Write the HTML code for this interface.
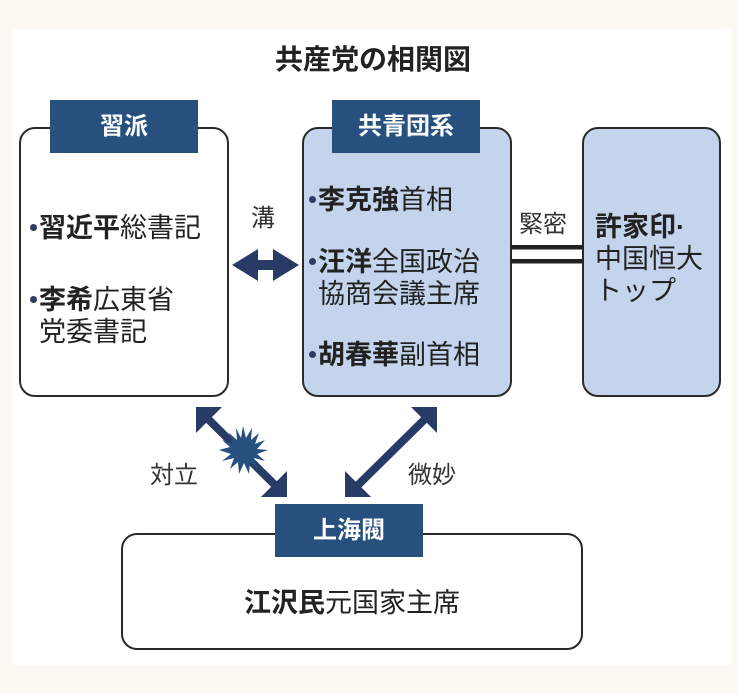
<!DOCTYPE html>
<html><head><meta charset="utf-8"><style>
body{margin:0;width:738px;height:694px;background:#fcf8f2;position:relative;overflow:hidden;font-family:"Liberation Sans","Noto Sans CJK JP",sans-serif;color:#222}
.a{position:absolute}
.box{position:absolute;border:2.5px solid #2a2a2a;border-radius:16px;box-sizing:border-box}
.hd{position:absolute;background:#27507f;color:#fff;font-weight:bold;font-size:24px;text-align:center;line-height:53px;height:53px}
.t{position:absolute;font-size:27px;line-height:32px;white-space:nowrap;color:#222}
.t b{font-weight:bold}
.d{display:inline-block;width:7px;height:7px;border-radius:50%;background:#2b3d63;vertical-align:middle;margin-right:2px;position:relative;top:-2px}
.l{position:absolute;font-size:24px;color:#333;white-space:nowrap}
</style></head><body>
<div class="a" style="left:13px;top:29px;width:718px;height:636px;background:#fff"></div>
<div class="a" style="left:0;top:38px;width:738px;text-align:center;font-size:28px;font-weight:bold;color:#222;padding-left:4px">共産党の相関図</div>

<div class="box" style="left:19px;top:127px;width:210px;height:270px;background:#fff"></div>
<div class="box" style="left:302px;top:127px;width:210px;height:270px;background:#c3d4ec"></div>
<div class="box" style="left:582px;top:127px;width:139px;height:270px;background:#c3d4ec"></div>
<div class="box" style="left:121px;top:533px;width:462px;height:117px;background:#fff"></div>

<div class="hd" style="left:50px;top:100px;width:148px">習派</div>
<div class="hd" style="left:332px;top:100px;width:148px">共青団系</div>
<div class="hd" style="left:275px;top:504px;width:148px">上海閥</div>

<div class="t" style="left:30px;top:212px"><span class="d"></span><b>習近平</b>総書記</div>
<div class="t" style="left:30px;top:284px"><span class="d"></span><b>李希</b>広東省<br><span style="padding-left:9px">党委書記</span></div>

<div class="t" style="left:309px;top:184px"><span class="d"></span><b>李克強</b>首相</div>
<div class="t" style="left:309px;top:246px"><span class="d"></span><b>汪洋</b>全国政治<br><span style="padding-left:9px">協商会議主席</span></div>
<div class="t" style="left:309px;top:339px"><span class="d"></span><b>胡春華</b>副首相</div>

<div class="t" style="left:595px;top:211px"><b>許家印·</b><br>中国恒大<br>トップ</div>
<div class="t" style="left:0;width:704px;text-align:center;top:587px"><b>江沢民</b>元国家主席</div>

<div class="l" style="left:251px;top:198px">溝</div>
<div class="l" style="left:519px;top:204px">緊密</div>
<div class="l" style="left:150px;top:455px">対立</div>
<div class="l" style="left:408px;top:455px">微妙</div>

<svg class="a" style="left:0;top:0" width="738" height="694">
<g fill="#283a66" stroke="none">
<rect x="511" y="245" width="72" height="4.5" fill="#222"/>
<rect x="511" y="259" width="72" height="4.5" fill="#222"/>
<polygon points="232,265 258,249 258,260 273,260 273,249 299,265 273,281 273,270 258,270 258,281"/>
</g>
<g stroke="#283a66" stroke-width="8">
<line x1="206" y1="417" x2="277" y2="487"/>
<line x1="427" y1="417" x2="356" y2="487"/>
</g>
<g fill="#283a66">
<polygon points="196,407 222,407 196,433"/>
<polygon points="287,497 261,497 287,471"/>
<polygon points="437,407 411,407 437,433"/>
<polygon points="345,497 371,497 345,471"/>
</g>
<polygon fill="#27507f" points="243,426 246,438 252,428 251,440 259,433 255,444 265,440 257,449 268,450 257,454 265,461 254,458 258,469 250,462 249,474 244,463 239,474 238,462 230,469 234,458 222,461 231,454 219,450 230,447 222,440 233,444 229,433 237,440 236,428 241,438"/>
</svg>
</body></html>
